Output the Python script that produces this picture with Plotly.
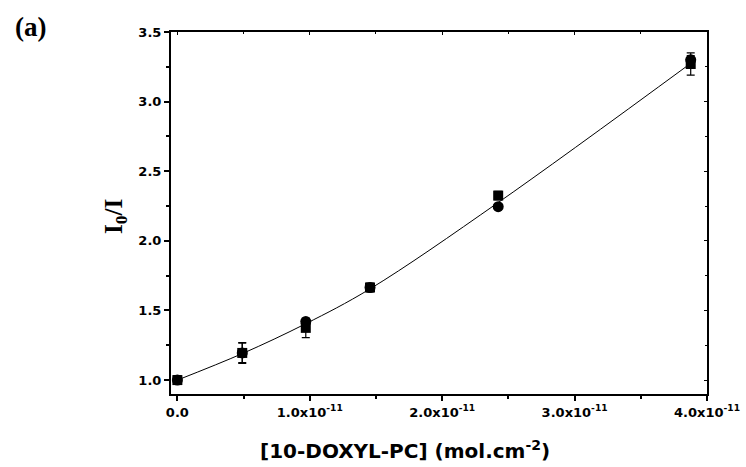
import plotly.graph_objects as go

x_vals = [0.0, 0.49e-11, 0.97e-11, 1.455e-11, 2.423e-11, 3.877e-11]
circle_y = [1.0, 1.195, 1.42, 1.665, 2.245, 3.30]
circle_err = [0.03, 0.07, 0.02, 0.03, 0.02, 0.03]
square_y = [1.0, 1.195, 1.375, 1.665, 2.325, 3.27]
square_err = [0.03, 0.075, 0.07, 0.03, 0.03, 0.08]
fit_y = [1.0, 1.19, 1.405, 1.655, 2.275, 3.275]

x_tick_vals = [0, 1e-11, 2e-11, 3e-11, 4e-11]
x_tick_text = ["0.0", "1.0x10<sup>-11</sup>", "2.0x10<sup>-11</sup>", "3.0x10<sup>-11</sup>", "4.0x10<sup>-11</sup>"]
y_tick_vals = [1.0, 1.5, 2.0, 2.5, 3.0, 3.5]
y_tick_text = ["1.0", "1.5", "2.0", "2.5", "3.0", "3.5"]

fig = go.Figure()
fig.add_trace(go.Scatter(x=x_vals, y=fit_y, mode="lines", line=dict(color="black", width=1, shape="spline"),
                         showlegend=False, hoverinfo="skip"))
fig.add_trace(go.Scatter(x=x_vals, y=square_y, mode="markers",
                         marker=dict(symbol="square", size=10, color="black"),
                         error_y=dict(type="data", array=square_err, color="black", thickness=1.2, width=4),
                         showlegend=False))
fig.add_trace(go.Scatter(x=x_vals, y=circle_y, mode="markers",
                         marker=dict(symbol="circle", size=11, color="black"),
                         error_y=dict(type="data", array=circle_err, color="black", thickness=1.2, width=4),
                         showlegend=False))
fig.add_trace(go.Scatter(x=[x_vals[0]], y=[circle_y[0]], xaxis="x2", yaxis="y2", mode="markers",
                         marker=dict(opacity=0), showlegend=False, hoverinfo="skip"))

xr = [-0.048e-11, 4.0e-11]
yr = [0.9, 3.5]
tickfont = dict(family="DejaVu Sans", size=13, color="black", weight="bold")

L, R, T, B = 171, 39, 32, 73
PW, PH = 746 - L - R, 467 - T - B

fig.update_layout(
    width=746, height=467,
    margin=dict(l=L, r=R, t=T, b=B),
    plot_bgcolor="white", paper_bgcolor="white",
    xaxis=dict(range=xr, tickvals=x_tick_vals, ticktext=x_tick_text, ticks="outside", ticklen=5,
               tickwidth=1.5, tickcolor="black", showline=True, linecolor="black", linewidth=2,
               showgrid=False, zeroline=False, tickfont=tickfont, automargin=False,
               minor=dict(dtick=0.5e-11, ticks="outside", ticklen=3, tickcolor="black", tick0=0)),
    yaxis=dict(range=yr, tickvals=y_tick_vals, ticktext=y_tick_text, ticks="outside", ticklen=5,
               tickwidth=1.5, tickcolor="black", showline=True, linecolor="black", linewidth=2,
               showgrid=False, zeroline=False, tickfont=tickfont, automargin=False,
               minor=dict(dtick=0.25, tick0=1.0, ticks="outside", ticklen=3, tickcolor="black")),
    xaxis2=dict(range=xr, overlaying="x", side="top", ticks="inside", ticklen=3, tickvals=x_tick_vals,
                showticklabels=False, showline=True, linecolor="black", linewidth=2, tickcolor="black",
                showgrid=False, zeroline=False, anchor="y2", automargin=False,
                minor=dict(dtick=0.5e-11, ticks="inside", ticklen=2, tickcolor="black", tick0=0)),
    yaxis2=dict(range=yr, overlaying="y", side="right", ticks="inside", ticklen=3, tickvals=y_tick_vals,
                showticklabels=False, showline=True, linecolor="black", linewidth=2, tickcolor="black",
                showgrid=False, zeroline=False, anchor="x2", automargin=False,
                minor=dict(dtick=0.25, tick0=1.0, ticks="inside", ticklen=2, tickcolor="black")),
    annotations=[
        dict(text="<b>(a)</b>", xref="paper", yref="paper",
             x=-(L - 30) / PW, y=1 + (T - 27) / PH, xanchor="center", yanchor="middle", showarrow=False,
             font=dict(family="Liberation Serif", size=27, color="black")),
        dict(text="<b>[10-DOXYL-PC] (mol.cm<sup>-2</sup>)</b>", xref="paper", yref="paper",
             x=(405 - L) / PW, y=-(450 - 394) / PH, xanchor="center", yanchor="middle",
             showarrow=False, font=dict(family="DejaVu Sans", size=20, color="black")),
        dict(text="<b>I<sub>0</sub>/I</b>", xref="paper", yref="paper",
             x=-(L - 115) / PW, y=0.5 - (217 - 213) / PH, xanchor="center",
             yanchor="middle", textangle=-90, showarrow=False,
             font=dict(family="Liberation Serif", size=25, color="black")),
    ],
)

fig.write_html("out.html")
